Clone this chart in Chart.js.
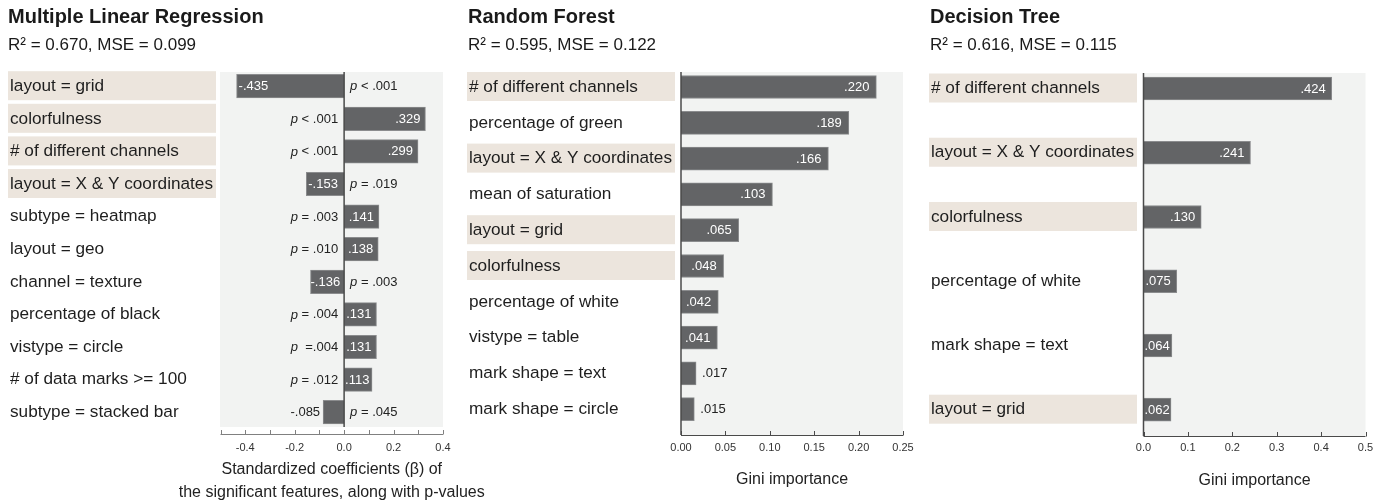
<!DOCTYPE html>
<html><head><meta charset="utf-8">
<script src="https://cdn.jsdelivr.net/npm/chart.js@4.4.1/dist/chart.umd.min.js"></script>
<style>
html,body{margin:0;padding:0;background:#fff;width:1381px;height:504px;overflow:hidden;font-family:'Liberation Sans',Arial,sans-serif;}
canvas{position:absolute;top:0}
.t{position:absolute;font-weight:bold;font-size:20px;line-height:20px;color:#1a1a1a;white-space:nowrap;z-index:2}
.s{position:absolute;font-size:17px;line-height:17px;color:#1a1a1a;white-space:nowrap;z-index:2}
</style></head><body>
<canvas id="c1" width="520" height="504" style="left:0px"></canvas>
<canvas id="c2" width="460" height="504" style="left:460px"></canvas>
<canvas id="c3" width="461" height="504" style="left:920px"></canvas>
<div class="t" style="left:8px;top:6px">Multiple Linear Regression</div>
<div class="s" style="left:8px;top:36px">R² = 0.670, MSE = 0.099</div>
<div class="t" style="left:468px;top:6px">Random Forest</div>
<div class="s" style="left:468px;top:36px">R² = 0.595, MSE = 0.122</div>
<div class="t" style="left:930px;top:6px">Decision Tree</div>
<div class="s" style="left:930px;top:36px">R² = 0.616, MSE = 0.115</div>
<script>
// ---------- data ----------
const mlrFeatures = ['layout = grid','colorfulness','# of different channels','layout = X & Y coordinates','subtype = heatmap','layout = geo','channel = texture','percentage of black','vistype = circle','# of data marks >= 100','subtype = stacked bar'];
const mlrCoefficients = [-0.435,0.329,0.299,-0.153,0.141,0.138,-0.136,0.131,0.131,0.113,-0.085];
const mlrPValues = [' < .001',' < .001',' < .001',' = .019',' = .003',' = .010',' = .003',' = .004','  =.004',' = .012',' = .045'];
const mlrHighlighted = [1,1,1,1,0,0,0,0,0,0,0];
const mlrTickValues = [-0.5,-0.4,-0.3,-0.2,-0.1,0,0.1,0.2,0.3,0.4];
const mlrTickLabels = ['','-0.4','','-0.2','','0.0','','0.2','','0.4'];
const mlrAxisTitle = ['Standardized coefficients (β) of','the significant features, along with p-values'];

const rfFeatures = ['# of different channels','percentage of green','layout = X & Y coordinates','mean of saturation','layout = grid','colorfulness','percentage of white','vistype = table','mark shape = text','mark shape = circle'];
const rfImportance = [0.220,0.189,0.166,0.103,0.065,0.048,0.042,0.041,0.017,0.015];
const rfHighlighted = [1,0,1,0,1,1,0,0,0,0];
const rfTickValues = [0,0.05,0.1,0.15,0.2,0.25];
const rfTickLabels = ['0.00','0.05','0.10','0.15','0.20','0.25'];

const dtFeatures = ['# of different channels','layout = X & Y coordinates','colorfulness','percentage of white','mark shape = text','layout = grid'];
const dtImportance = [0.424,0.241,0.130,0.075,0.064,0.062];
const dtHighlighted = [1,1,1,0,0,1];
const dtTickValues = [0,0.1,0.2,0.3,0.4,0.5];
const dtTickLabels = ['0.0','0.1','0.2','0.3','0.4','0.5'];

// ---------- rendering ----------
const FONT = "'Liberation Sans', Arial, sans-serif";
Chart.defaults.font.family = FONT;
Chart.defaults.color = '#222';

function fmt(v){ return v.toFixed(3).replace('0.', '.'); }

const deco = {
  id: 'deco',
  beforeDraw(chart, args, o) {
    const {ctx, chartArea: a, scales: {y}} = chart;
    ctx.save();
    ctx.fillStyle = '#f2f3f2';
    ctx.fillRect(a.left - o.bgLeftExtra, a.top, a.right - a.left + o.bgLeftExtra, a.bottom - o.bgGap - a.top);
    ctx.fillStyle = '#ece5dd';
    o.highlighted.forEach((h, i) => {
      if (!h) return;
      const cy = y.getPixelForValue(i);
      ctx.fillRect(y.left - 2, cy - 15, 208, 29);
    });
    ctx.restore();
  },
  afterDatasetsDraw(chart, args, o) {
    const {ctx, chartArea: a, scales: {x}} = chart;
    ctx.save();
    // axis line + inward ticks
    ctx.strokeStyle = o.axisColor;
    ctx.lineWidth = 1;
    ctx.beginPath();
    ctx.moveTo(a.left, a.bottom + 0.5);
    ctx.lineTo(a.right, a.bottom + 0.5);
    o.tickValues.forEach(v => {
      const px = Math.round(x.getPixelForValue(v)) + 0.5;
      ctx.moveTo(px, a.bottom + 0.5);
      ctx.lineTo(px, a.bottom - 4);
    });
    ctx.stroke();
    // zero line
    const zx = x.getPixelForValue(0);
    ctx.strokeStyle = '#4a4a4a';
    ctx.lineWidth = 1.5;
    ctx.beginPath();
    ctx.moveTo(zx, a.top);
    ctx.lineTo(zx, a.bottom - o.bgGap);
    ctx.stroke();
    // custom (wide) axis title
    if (o.wideTitle) {
      ctx.fillStyle = '#222';
      ctx.font = '16px ' + FONT;
      ctx.textAlign = 'center';
      ctx.textBaseline = 'middle';
      const cx = (a.left + a.right) / 2;
      o.wideTitle.forEach((line, k) => ctx.fillText(line, cx, o.wideTitleY + k * o.wideTitleLH));
    }
    // value labels
    const meta = chart.getDatasetMeta(0);
    ctx.textBaseline = 'middle';
    meta.data.forEach((bar, i) => {
      const v = o.values[i];
      const txt = fmt(v);
      ctx.font = '13px ' + FONT;
      const tw = ctx.measureText(txt).width;
      const start = bar.base, end = bar.x;
      const bw = Math.abs(end - start);
      const cy = bar.y + 0.5;
      if (tw + 2 <= bw) {
        ctx.fillStyle = '#ffffff';
        if (v >= 0) { ctx.textAlign = 'right'; ctx.fillText(txt, Math.max(end - o.inPad, start + tw + 1), cy); }
        else { ctx.textAlign = 'left'; ctx.fillText(txt, Math.min(end + 2, start - 4 - tw), cy); }
      } else {
        ctx.fillStyle = '#222';
        if (v >= 0) { ctx.textAlign = 'left'; ctx.fillText(txt, end + 6, cy); }
        else { ctx.textAlign = 'right'; ctx.fillText(txt, end - 3, cy); }
      }
      if (o.pvalues) {
        const rest = o.pvalues[i];
        ctx.fillStyle = '#222';
        ctx.font = '13px ' + FONT;
        const rw = ctx.measureText(rest).width;
        ctx.font = 'italic 13px ' + FONT;
        const pw = ctx.measureText('p').width;
        if (v >= 0) {
          const xe = zx - 6;
          ctx.textAlign = 'right';
          ctx.fillText('p', xe - rw, cy);
          ctx.font = '13px ' + FONT;
          ctx.fillText(rest, xe, cy);
        } else {
          const xs = zx + 6;
          ctx.textAlign = 'left';
          ctx.fillText('p', xs, cy);
          ctx.font = '13px ' + FONT;
          ctx.fillText(rest, xs + pw, cy);
        }
      }
    });
    ctx.restore();
  }
};

function makeChart(id, c) {
  const h = 504;
  const yMin = -(c.rowFirst - c.top) / c.rowStep;
  const yMax = yMin + (c.bottom - c.top) / c.rowStep;
  return new Chart(document.getElementById(id), {
    type: 'bar',
    data: {
      datasets: [{
        data: c.values.map((v, i) => ({x: v, y: i})),
        backgroundColor: '#636466',
        borderColor: '#8b8c8e',
        borderWidth: 1,
        borderSkipped: 'start',
        barThickness: c.barThickness
      }]
    },
    options: {
      indexAxis: 'y',
      responsive: false,
      animation: false,
      events: [],
      layout: {padding: {left: c.padLeft, right: c.padRight, top: c.top, bottom: 0}},
      plugins: {
        legend: {display: false},
        tooltip: {enabled: false},
        deco: {
          values: c.values, pvalues: c.pvalues, highlighted: c.highlighted,
          tickValues: c.tickValues, axisColor: c.axisColor, bgGap: c.bgGap,
          bgLeftExtra: c.bgLeftExtra, inPad: c.inPad,
          wideTitle: c.wideTitle || null, wideTitleY: 469.5, wideTitleLH: 23
        }
      },
      scales: {
        x: {
          type: 'linear', min: c.xMin, max: c.xMax, offset: false,
          afterBuildTicks: s => { s.ticks = c.tickValues.map(v => ({value: v})); },
          afterFit: s => { s.height = h - c.bottom; },
          grid: {display: false, drawTicks: false},
          border: {display: false},
          ticks: {autoSkip: false, maxRotation: 0, minRotation: 0, padding: c.tickPad,
                  font: {size: 11}, color: '#333',
                  callback: (v, i) => c.tickLabels[i]},
          title: {display: !!c.xTitle, text: c.xTitle || '', color: '#222',
                  font: {size: 16, lineHeight: 1.2},
                  padding: {top: 0, bottom: c.titlePadBottom}}
        },
        y: {
          type: 'linear', reverse: true, min: yMin, max: yMax, offset: false,
          afterBuildTicks: s => { s.ticks = c.labels.map((_, i) => ({value: i})); },
          afterFit: s => { s.width = c.yWidth; },
          grid: {display: false, drawTicks: false},
          border: {display: false},
          ticks: {autoSkip: false, crossAlign: 'far', font: {size: 17.2}, color: '#1e1e1e',
                  callback: v => c.labels[v]}
        }
      }
    },
    plugins: [deco]
  });
}

makeChart('c1', {
  labels: mlrFeatures, values: mlrCoefficients, pvalues: mlrPValues, highlighted: mlrHighlighted,
  tickValues: mlrTickValues, tickLabels: mlrTickLabels, xMin: -0.5, xMax: 0.4,
  xTitle: null, wideTitle: mlrAxisTitle, titlePadBottom: 0,
  padLeft: 10, yWidth: 210.5, padRight: 77, top: 72, bottom: 434,
  rowFirst: 86.2, rowStep: 32.6, barThickness: 23.5, tickPad: 7,
  axisColor: '#808080', bgGap: 7, bgLeftExtra: 0.5, inPad: 5
});
makeChart('c2', {
  labels: rfFeatures, values: rfImportance, pvalues: null, highlighted: rfHighlighted,
  tickValues: rfTickValues, tickLabels: rfTickLabels, xMin: 0, xMax: 0.25,
  xTitle: 'Gini importance', titlePadBottom: 14.4,
  padLeft: 9, yWidth: 212, padRight: 17, top: 72, bottom: 435,
  rowFirst: 87, rowStep: 35.8, barThickness: 23, tickPad: 6,
  axisColor: '#4a4a4a', bgGap: 0, bgLeftExtra: 0, inPad: 7
});
makeChart('c3', {
  labels: dtFeatures, values: dtImportance, pvalues: null, highlighted: dtHighlighted,
  tickValues: dtTickValues, tickLabels: dtTickLabels, xMin: 0, xMax: 0.5,
  xTitle: 'Gini importance', titlePadBottom: 13.4,
  padLeft: 11, yWidth: 212.5, padRight: 15.5, top: 73, bottom: 436,
  rowFirst: 88.5, rowStep: 64.24, barThickness: 23, tickPad: 5.7,
  axisColor: '#4a4a4a', bgGap: 0, bgLeftExtra: 0, inPad: 6
});
</script>
</body></html>
